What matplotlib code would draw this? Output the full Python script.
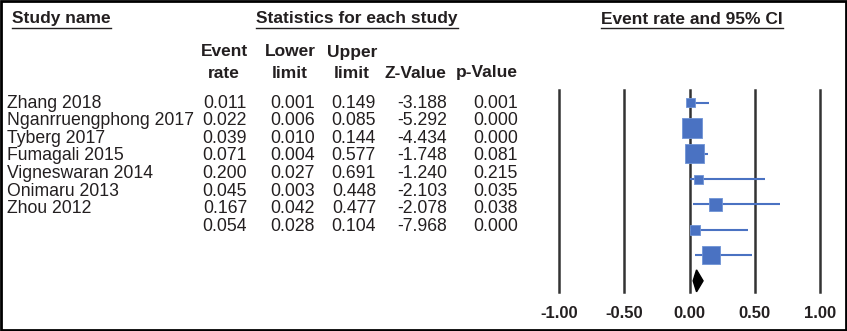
import matplotlib.pyplot as plt
from matplotlib.patches import Polygon, Rectangle

plt.rcParams['font.family'] = ['Liberation Sans', 'DejaVu Sans']

studies = ['Zhang 2018', 'Nganrruengphong 2017', 'Tyberg 2017', 'Fumagali 2015',
           'Vigneswaran 2014', 'Onimaru 2013', 'Zhou 2012']
event_rate = [0.011, 0.022, 0.039, 0.071, 0.200, 0.045, 0.167]
lower = [0.001, 0.006, 0.010, 0.004, 0.027, 0.003, 0.042]
upper = [0.149, 0.085, 0.144, 0.577, 0.691, 0.448, 0.477]
z_value = [-3.188, -5.292, -4.434, -1.748, -1.240, -2.103, -2.078]
p_value = [0.001, 0.000, 0.000, 0.081, 0.215, 0.035, 0.038]
# relative study weights (box side in pixels)
weight = [9, 20, 19, 9, 13, 10, 18]
pooled = [0.054, 0.028, 0.104, -7.968, 0.000]
xticks = [-1.0, -0.5, 0.0, 0.5, 1.0]

W, H = 847, 331
txt = '#231f20'
blue = '#4a72c2'

fig = plt.figure(figsize=(W / 100, H / 100), dpi=100)

# text layer in pixel coordinates
tx = fig.add_axes([0, 0, 1, 1])
tx.set_xlim(0, W)
tx.set_ylim(H, 0)
tx.axis('off')
tx.add_patch(Rectangle((1, 1), W - 2, H - 2, fill=False, ec='black', lw=2))

fs = 12.7
hdr = dict(fontsize=12.5, fontweight='bold', color=txt, va='center')
for label, x, ha in [('Study name', 12, 'left'),
                     ('Statistics for each study', 357, 'center'),
                     ('Event rate and 95% CI', 692, 'center')]:
    t = tx.text(x, 19, label, ha=ha, **hdr)
    fig.canvas.draw()
    bb = t.get_window_extent().transformed(tx.transData.inverted())
    tx.plot([bb.x0, bb.x1], [28, 28], color=txt, lw=1.0)

col_x = [247, 315, 376, 447, 518]
col_hdr = [('Event', 'rate'), ('Lower', 'limit'), ('Upper', 'limit'), ('', 'Z-Value'), ('', 'p-Value')]
col_c = [224, 290, 352, 415, 487]
for (l1, l2), cx in zip(col_hdr, col_c):
    if l1:
        tx.text(cx, 52, l1, ha='center', **hdr)
    tx.text(cx, 73, l2, ha='center', **hdr)

row_y0, row_dy = 103, 17.6
for i, name in enumerate(studies):
    y = row_y0 + i * row_dy
    tx.text(7, y, name, fontsize=fs, color=txt, va='center')
    vals = [event_rate[i], lower[i], upper[i], z_value[i], p_value[i]]
    for v, cx in zip(vals, col_x):
        tx.text(cx, y, f'{v:.3f}', fontsize=fs, color=txt, va='center', ha='right')
y = row_y0 + len(studies) * row_dy
for v, cx in zip(pooled, col_x):
    tx.text(cx, y, f'{v:.3f}', fontsize=fs, color=txt, va='center', ha='right')

# forest plot
top, bot = 90, 292
ry0, rdy = 102.7, 25.45
ax = fig.add_axes([559 / W, 1 - bot / H, (820 - 559) / W, (bot - top) / H])
ax.set_xlim(-1, 1)
ax.set_ylim((bot - ry0) / rdy, (top - ry0) / rdy)
for s in ax.spines.values():
    s.set_visible(False)
ax.patch.set_visible(False)
for xt in xticks:
    ax.axvline(xt, color='#333333', lw=1.8, zorder=1, clip_on=False)
ax.set_xticks(xticks)
ax.set_xticklabels([f'{v:.2f}' for v in xticks], fontsize=12, fontweight='bold', color=txt)
ax.tick_params(axis='x', length=0, pad=10)
ax.set_yticks([])

rows = list(range(len(studies)))
ax.hlines(rows, lower, upper, color=blue, lw=1.5, zorder=2)
ax.scatter(event_rate, rows, s=[(w * 0.72) ** 2 for w in weight], marker='s',
           color=blue, edgecolors='#6f93d6', linewidths=0.6, zorder=3, clip_on=False)

yp = len(studies)
hh = 0.43
ax.add_patch(Polygon([(pooled[1], yp), (pooled[0], yp - hh), (pooled[2], yp), (pooled[0], yp + hh)],
                     closed=True, color='black', zorder=3, clip_on=False))

fig.savefig('out.png', dpi=100)
